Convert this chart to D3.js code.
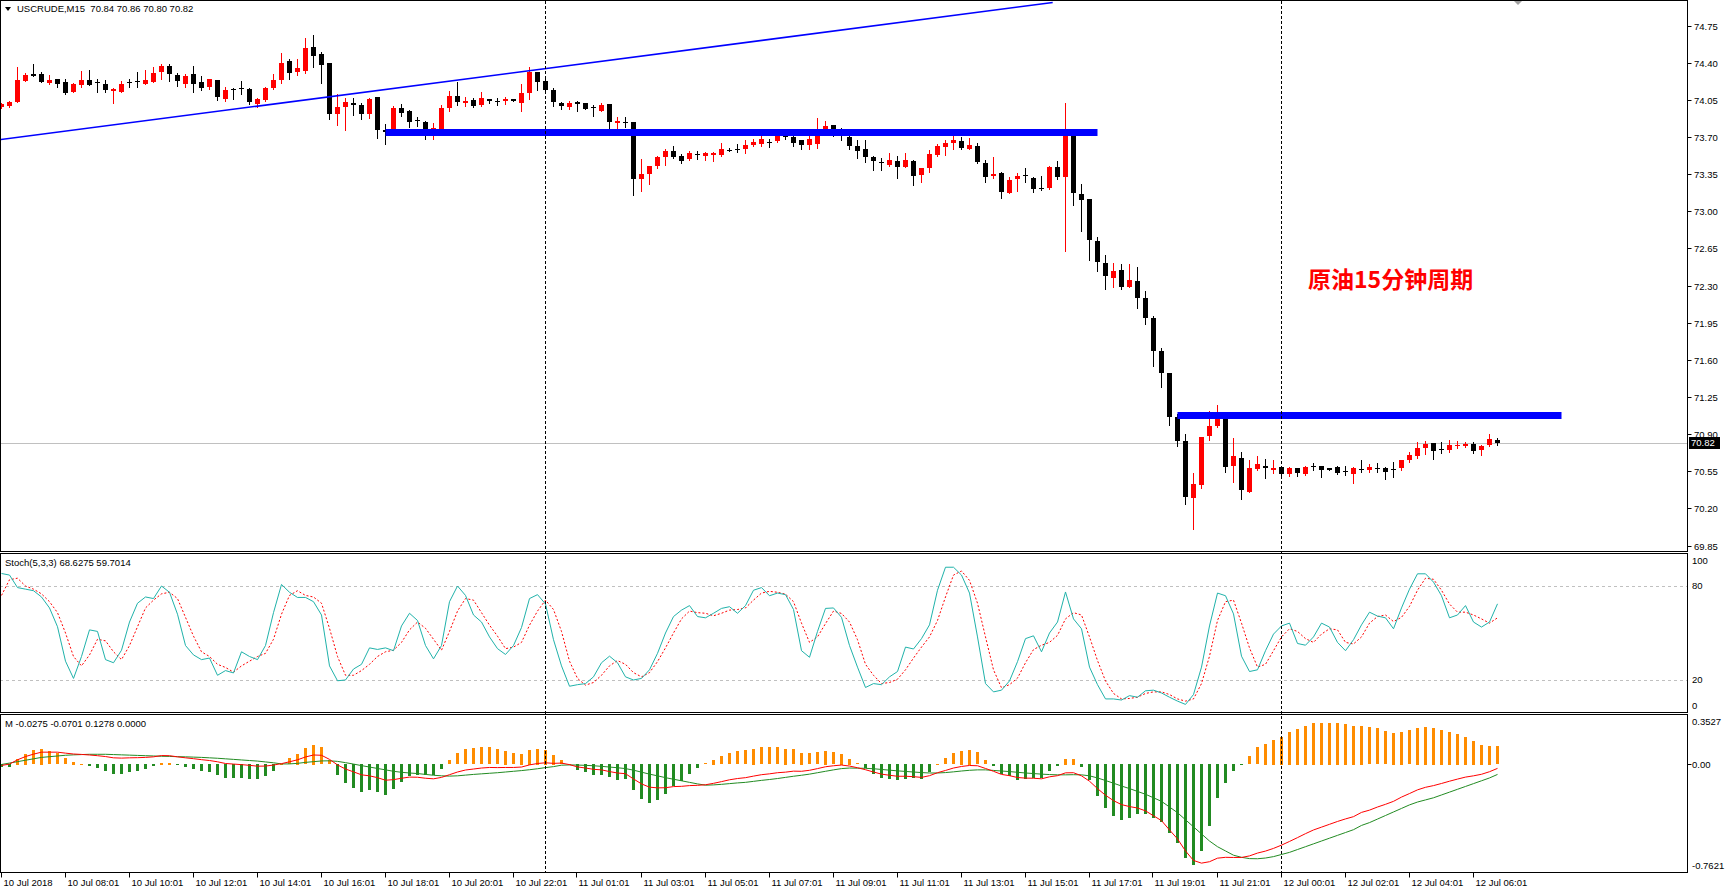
<!DOCTYPE html>
<html lang="zh">
<head>
<meta charset="UTF-8">
<title>USCRUDE,M15</title>
<style>
  html, body { margin: 0; padding: 0; background: #fff; }
  svg { display: block; }
  .lbl { font: 9.5px "Liberation Sans", Arial, sans-serif; fill: #000; }
  .note { font: bold 23px "Noto Sans CJK SC", sans-serif; fill: #ff0000; }
</style>
</head>
<body>
<svg id="chart" width="1725" height="892"></svg>
<script src="https://d3js.org/d3.v7.min.js"></script>
<script>
// --- data (bar index = position on the time axis) ---
const SYMBOL = "USCRUDE,M15";
const LAST_OHLC = ["70.84", "70.86", "70.80", "70.82"];
const NOTE = "原油15分钟周期";

// [open, high, low, close] per 15-minute bar
const CANDLES = [
  [73.98,74.02,73.97,74.01],[73.99,74.04,73.98,74.03],[74.03,74.36,74.03,74.24],[74.23,74.30,74.23,74.28],[74.29,74.39,74.27,74.27],
  [74.29,74.31,74.22,74.22],[74.21,74.28,74.20,74.24],[74.25,74.25,74.17,74.20],[74.22,74.25,74.10,74.11],[74.12,74.21,74.12,74.20],
  [74.19,74.32,74.17,74.24],[74.24,74.33,74.19,74.19],[74.214,74.25,74.12,74.208],[74.20,74.24,74.12,74.14],[74.136,74.157,74.02,74.148],
  [74.12,74.23,74.12,74.20],[74.22,74.245,74.17,74.215],[74.227,74.31,74.17,74.217],[74.20,74.33,74.20,74.24],[74.22,74.36,74.22,74.30],
  [74.31,74.39,74.25,74.37],[74.37,74.39,74.23,74.29],[74.28,74.30,74.18,74.23],[74.20,74.29,74.17,74.27],[74.29,74.37,74.12,74.20],
  [74.22,74.27,74.14,74.16],[74.17,74.25,74.15,74.25],[74.24,74.24,74.05,74.08],[74.06,74.17,74.04,74.14],[74.152,74.157,74.06,74.145],
  [74.16,74.23,74.10,74.148],[74.15,74.157,74.01,74.025],[74.01,74.07,73.98,74.06],[74.05,74.17,74.04,74.16],[74.16,74.29,74.15,74.24],
  [74.24,74.49,74.21,74.40],[74.42,74.43,74.25,74.30],[74.31,74.43,74.28,74.35],[74.32,74.635,74.305,74.54],[74.55,74.66,74.36,74.46],
  [74.48,74.50,74.21,74.38],[74.40,74.40,73.865,73.92],[73.92,74.10,73.81,73.98],[73.985,74.07,73.765,74.03],[74.016,74.07,73.906,74.004],
  [74.00,74.016,73.865,73.92],[73.92,74.07,73.878,74.06],[74.08,74.08,73.69,73.77],[73.77,73.82,73.63,73.75],[73.72,73.99,73.72,73.97],
  [73.97,74.01,73.895,73.93],[73.94,73.95,73.79,73.84],[73.86,73.885,73.80,73.855],[73.84,73.85,73.68,73.71],[73.71,73.83,73.68,73.78],
  [73.75,74.00,73.72,73.97],[73.97,74.13,73.94,74.09],[74.09,74.22,74.00,74.03],[74.02,74.08,73.99,74.04],[74.05,74.07,73.98,73.995],
  [74.00,74.12,73.99,74.07],[74.06,74.06,74.015,74.04],[74.04,74.07,74.00,74.039],[74.04,74.08,74.01,74.055],[74.06,74.06,74.035,74.035],
  [74.015,74.195,73.94,74.11],[74.11,74.36,74.06,74.31],[74.31,74.31,74.14,74.215],[74.23,74.25,74.13,74.14],[74.14,74.16,73.99,74.03],
  [74.02,74.03,73.96,73.99],[73.98,74.04,73.96,74.02],[74.03,74.035,73.94,74.01],[74.02,74.02,73.96,73.96],[73.98,74.00,73.895,73.97],
  [73.94,74.02,73.94,74.00],[74.01,74.01,73.78,73.84],[73.83,73.885,73.78,73.85],[73.84,73.885,73.79,73.835],[73.84,73.84,73.15,73.305],
  [73.30,73.49,73.19,73.35],[73.35,73.43,73.26,73.43],[73.43,73.52,73.41,73.51],[73.51,73.585,73.44,73.57],[73.57,73.615,73.50,73.51],
  [73.52,73.54,73.455,73.47],[73.49,73.57,73.48,73.55],[73.535,73.563,73.49,73.533],[73.52,73.56,73.48,73.55],[73.533,73.56,73.47,73.548],
  [73.53,73.64,73.52,73.59],[73.58,73.595,73.565,73.578],[73.59,73.636,73.56,73.585],[73.59,73.667,73.55,73.625],[73.625,73.677,73.615,73.655],
  [73.636,73.72,73.61,73.677],[73.653,73.677,73.605,73.65],[73.662,73.72,73.652,73.714],[73.71,73.765,73.677,73.703],[73.703,73.708,73.61,73.647],
  [73.667,73.667,73.59,73.62],[73.626,73.714,73.59,73.677],[73.636,73.88,73.595,73.776],[73.765,73.853,73.755,73.806],[73.81,73.81,73.71,73.755],
  [73.765,73.786,73.667,73.71],[73.70,73.72,73.585,73.615],[73.615,73.667,73.497,73.564],[73.59,73.667,73.46,73.512],[73.512,73.522,73.393,73.47],
  [73.462,73.497,73.393,73.46],[73.44,73.548,73.43,73.486],[73.47,73.52,73.316,73.42],[73.414,73.548,73.414,73.486],[73.47,73.486,73.25,73.33],
  [73.342,73.404,73.274,73.404],[73.409,73.574,73.367,73.543],[73.528,73.636,73.522,73.615],[73.605,73.667,73.528,73.646],[73.646,73.714,73.585,73.667],
  [73.657,73.703,73.585,73.595],[73.585,73.688,73.585,73.626],[73.615,73.646,73.45,73.46],[73.455,73.481,73.274,73.326],[73.331,73.507,73.316,73.347],
  [73.362,73.373,73.12,73.18],[73.171,73.32,73.171,73.29],[73.305,73.362,73.19,73.336],[73.342,73.409,73.274,73.331],[73.31,73.32,73.18,73.212],
  [73.223,73.336,73.202,73.218],[73.218,73.43,73.207,73.419],[73.42,73.47,73.30,73.326],[73.321,74.024,72.623,73.714],[73.714,73.755,73.057,73.171],
  [73.16,73.254,72.814,73.109],[73.119,73.119,72.54,72.726],[72.721,72.757,72.437,72.52],[72.509,72.592,72.271,72.385],[72.375,72.514,72.282,72.437],
  [72.447,72.499,72.271,72.287],[72.287,72.504,72.287,72.349],[72.344,72.478,72.09,72.178],[72.178,72.245,71.94,71.997],[71.997,72.008,71.537,71.682],
  [71.682,71.713,71.346,71.48],[71.48,71.48,70.99,71.062],[71.062,71.093,70.787,70.839],[70.839,70.901,70.245,70.307],[70.296,70.535,70.007,70.431],
  [70.421,70.875,70.395,70.875],[70.886,71.118,70.844,70.978],[70.974,71.175,70.963,71.067],[71.046,71.046,70.545,70.586],[70.601,70.86,70.446,70.694],
  [70.679,70.731,70.291,70.369],[70.358,70.653,70.358,70.576],[70.571,70.69,70.566,70.617],[70.596,70.669,70.483,70.576],[70.56,70.653,70.535,70.576],
  [70.586,70.602,70.514,70.524],[70.524,70.586,70.504,70.576],[70.576,70.576,70.504,70.535],[70.524,70.596,70.514,70.586],[70.602,70.627,70.566,70.586],
  [70.596,70.602,70.493,70.56],[70.576,70.58,70.56,70.566],[70.586,70.602,70.524,70.535],[70.555,70.602,70.514,70.545],[70.524,70.586,70.44,70.576],
  [70.567,70.653,70.545,70.565],[70.565,70.617,70.545,70.586],[70.577,70.627,70.545,70.574],[70.576,70.586,70.473,70.545],[70.567,70.637,70.493,70.565],
  [70.576,70.658,70.566,70.658],[70.658,70.731,70.638,70.705],[70.694,70.829,70.679,70.772],[70.772,70.834,70.71,70.808],[70.819,70.819,70.664,70.736],
  [70.757,70.824,70.72,70.756],[70.751,70.845,70.731,70.793],[70.79,70.834,70.767,70.80],[70.79,70.824,70.777,70.803],[70.808,70.829,70.725,70.741],
  [70.746,70.798,70.705,70.788],[70.793,70.896,70.783,70.855],[70.84,70.86,70.80,70.82]
];

// Stochastic(5,3,3): main (%K) and signal (%D)
const STOCH_K = [88,87,79,78,77,73,66,54,32,21,
  35,52,51,33,31,39,57,69,73,72, 80,76,62,42,36,33,34,23,26,24.5,
  38,35,33,42,63,81,76,72.7,72.7,70, 61.5,29,19.5,20,27,30,40.5,39.5,40.5,38.7,
  54.5,62.6,58,42,33.5,42,70,80,74,61.5, 57,47.5,40,36.3,42,53.5,72,74.5,68.5,45.7,
  29,16,17,17.7,22,31,35.2,31,22,20, 21,26.5,37,50,60.5,64.6,67.5,60.5,59.7,62.6,
  65.7,66.8,62.6,67.5,77.3,79,73.8,75.5,74.5,65, 38.7,34.5,51,65.7,66,60,42,28.2,15.2,17.7,
  17,22,25.4,41,39.8,46.4,55.2,77.3,92,92, 87,75.5,47.5,17.7,12.4,13.5,19.4,31.7,46.4,48.2,
  38,50,57,76.2,59,52.7,28.2,17,7.9,7.9, 7.2,10,9,13.1,13.5,11.7,9,6.5,4.4,10.7,
  28.2,54.5,75.5,73.8,62.2,35.2,25.4,26.5,38.7,49.3, 54.5,56.3,43.3,42.2,47.5,56.3,53.8,44,38.7,45.7,
  55.2,63.3,60.8,59.7,52.7,66,78,87.8,87.8,82.5, 73.8,59.7,61.5,67.5,57,53.8,57,68.6275];
const STOCH_D = [74,84,85,80,78,75,70,63,50,35,
  29,36,46,45,38,33,42,54,66,71, 75,76,72,60,48,38,35,30,28,25,
  29,32,35,37,46,62,74,77,74,73, 69,53,35,23,23,26,30,35,38,39,
  44,52,57,53,46,39,51,64,72,71, 63,55,48,40,41,44,55,64,71,65,
  51,32,21,16.7,18.4,23,29,32.4,30,24.7, 22,24.7,31.7,40.5,50,59,64,63,62.6,61,
  62.6,64.6,65,66,71,75.5,76.6,76,74.8,70, 56.3,44,47.5,56,64,62.5,57,45.7,30,23,
  17.7,18.4,20.5,26.5,34,41,47.5,58,73,87, 89.6,83.6,69,47.5,26.5,15,17,21.2,31,39.4,
  42.2,44,48.5,59,63,61.5,47.5,32.4,19.4,11.4, 7.9,8.2,9,11.4,12.4,12.4,10.7,7.9,6.5,7.9,
  17.7,35.2,58,70,71,56.3,40.5,28.2,30,38.7, 47.5,52.7,51,46.4,44,49.3,52.7,52,44,43,
  47.5,56.3,60.5,61.5,57.3,60,67,77.3,85,84.3, 77.3,68.5,63.3,63.3,61.5,59,56.3,59.7014];
const STOCH_LEVELS = [20, 80];
const STOCH_TICKS = ["100", "80", "20", "0"];

// MACD-style oscillator: histogram, main line (red), signal line (green)
const HIST = [-0.02,-0.02,0.04,0.077,0.10,0.11,0.095,0.08,0.045,0.018,
  0.003,-0.016,-0.03,-0.048,-0.07,-0.07,-0.056,-0.048,-0.037,-0.017, 0.014,0.014,-0.004,-0.021,-0.033,-0.048,-0.056,-0.076,-0.099,-0.099,
  -0.099,-0.103,-0.107,-0.087,-0.048,0.005,0.045,0.076,0.115,0.14, 0.12,0.03,-0.076,-0.134,-0.166,-0.196,-0.185,-0.196,-0.22,-0.177,
  -0.126,-0.087,-0.08,-0.08,-0.076,-0.033,0.03,0.08,0.107,0.115, 0.123,0.123,0.107,0.096,0.08,0.076,0.103,0.111,0.103,0.069,
  0.03,0.004,-0.04,-0.056,-0.076,-0.076,-0.095,-0.11,-0.107,-0.185, -0.25,-0.275,-0.255,-0.212,-0.157,-0.118,-0.068,-0.029,0.01,0.034,
  0.057,0.08,0.092,0.10,0.111,0.12,0.12,0.123,0.111,0.107, 0.084,0.08,0.088,0.096,0.088,0.076,0.041,0.01,-0.029,-0.068,
  -0.099,-0.107,-0.115,-0.103,-0.099,-0.103,-0.056,0.006,0.045,0.08, 0.096,0.103,0.088,0.03,-0.017,-0.072,-0.087,-0.11,-0.107,-0.099,
  -0.099,-0.048,-0.017,0.041,0.041,-0.021,-0.115,-0.224,-0.313,-0.368, -0.392,-0.38,-0.352,-0.352,-0.38,-0.407,-0.485,-0.555,-0.66,-0.71,
  -0.617,-0.438,-0.243,-0.134,-0.048,-0.004,0.057,0.12,0.147,0.174, 0.197,0.232,0.252,0.275,0.295,0.295,0.295,0.295,0.287,0.275,
  0.275,0.263,0.256,0.236,0.224,0.232,0.24,0.259,0.267,0.259, 0.244,0.232,0.217,0.197,0.166,0.139,0.131,0.1278];
const MACD_MAIN = [-0.007,0.003,0.033,0.056,0.073,0.087,0.087,0.087,0.08,0.074,
  0.071,0.067,0.062,0.056,0.047,0.045,0.047,0.048,0.05,0.054, 0.063,0.062,0.054,0.047,0.041,0.034,0.028,0.019,0.007,0.003,
  -0.001,-0.006,-0.012,-0.011,-0.004,0.006,0.019,0.033,0.053,0.067, 0.065,0.036,-0.003,-0.032,-0.052,-0.073,-0.08,-0.093,-0.111,-0.107,
  -0.097,-0.089,-0.09,-0.097,-0.101,-0.091,-0.072,-0.053,-0.039,-0.032, -0.025,-0.021,-0.022,-0.021,-0.021,-0.018,-0.003,0.007,0.012,0.008,
  0.01,-0.001,-0.017,-0.025,-0.034,-0.038,-0.05,-0.06,-0.065,-0.102, -0.137,-0.16,-0.165,-0.164,-0.156,-0.154,-0.149,-0.147,-0.143,-0.133,
  -0.121,-0.108,-0.099,-0.093,-0.082,-0.072,-0.066,-0.058,-0.054,-0.047, -0.048,-0.041,-0.029,-0.016,-0.009,-0.004,-0.011,-0.023,-0.037,-0.053,
  -0.068,-0.076,-0.083,-0.083,-0.086,-0.091,-0.079,-0.058,-0.042,-0.025, -0.014,-0.007,-0.009,-0.028,-0.048,-0.07,-0.079,-0.092,-0.096,-0.097,
  -0.101,-0.087,-0.079,-0.059,-0.058,-0.08,-0.118,-0.17,-0.217,-0.255, -0.283,-0.297,-0.307,-0.327,-0.362,-0.396,-0.462,-0.525,-0.61,-0.677,
  -0.696,-0.686,-0.661,-0.655,-0.656,-0.656,-0.645,-0.625,-0.611,-0.592, -0.569,-0.543,-0.516,-0.488,-0.462,-0.442,-0.422,-0.402,-0.384,-0.368,
  -0.338,-0.322,-0.30,-0.281,-0.26,-0.23,-0.205,-0.179,-0.161,-0.149, -0.134,-0.118,-0.103,-0.089,-0.08,-0.069,-0.051,-0.0275];
const MACD_SIGNAL = [0,0.01,0.02,0.03,0.04,0.05,0.055,0.06,0.065,0.068,
  0.07,0.072,0.072,0.072,0.07,0.068,0.066,0.064,0.062,0.06, 0.058,0.057,0.055,0.054,0.052,0.05,0.047,0.044,0.04,0.036,
  0.032,0.028,0.024,0.018,0.012,0.004,0.004,0.008,0.015,0.02, 0.025,0.026,0.022,0.013,0.003,-0.008,-0.018,-0.028,-0.038,-0.048,
  -0.055,-0.06,-0.064,-0.07,-0.076,-0.08,-0.082,-0.08,-0.075,-0.07, -0.066,-0.062,-0.058,-0.053,-0.048,-0.043,-0.037,-0.03,-0.022,-0.015,
  -0.005,-0.003,-0.004,-0.006,-0.009,-0.013,-0.018,-0.023,-0.029,-0.04, -0.054,-0.068,-0.08,-0.093,-0.104,-0.115,-0.126,-0.137,-0.146,-0.144,
  -0.14,-0.135,-0.13,-0.126,-0.119,-0.112,-0.106,-0.099,-0.091,-0.083, -0.076,-0.068,-0.058,-0.048,-0.038,-0.029,-0.025,-0.026,-0.027,-0.03,
  -0.035,-0.04,-0.045,-0.049,-0.053,-0.057,-0.06,-0.06,-0.057,-0.052, -0.046,-0.041,-0.038,-0.038,-0.042,-0.046,-0.05,-0.055,-0.06,-0.064,
  -0.068,-0.071,-0.073,-0.073,-0.072,-0.073,-0.08,-0.095,-0.113,-0.132, -0.152,-0.17,-0.19,-0.21,-0.235,-0.26,-0.3,-0.34,-0.39,-0.44,
  -0.49,-0.54,-0.58,-0.61,-0.64,-0.655,-0.664,-0.665,-0.66,-0.65, -0.635,-0.62,-0.6,-0.58,-0.56,-0.54,-0.52,-0.5,-0.48,-0.46,
  -0.43,-0.41,-0.385,-0.36,-0.335,-0.31,-0.285,-0.265,-0.25,-0.235, -0.215,-0.195,-0.175,-0.155,-0.135,-0.115,-0.095,-0.0701];
const MACD_TITLE = "M -0.0275 -0.0701 0.1278 0.0000";
const MACD_MAX = 0.3527, MACD_MIN = -0.7621;

// price axis labels
const PRICE_TICKS = ["74.75","74.40","74.05","73.70","73.35","73.00","72.65","72.30","71.95","71.60","71.25","70.90","70.55","70.20","69.85"];
const PRICE_LAST = 70.82;

// time axis labels: [bar index, text]
const TIME_LABELS = [[0,"10 Jul 2018"],[8,"10 Jul 08:01"],[16,"10 Jul 10:01"],[24,"10 Jul 12:01"],[32,"10 Jul 14:01"],
  [40,"10 Jul 16:01"],[48,"10 Jul 18:01"],[56,"10 Jul 20:01"],[64,"10 Jul 22:01"],[72,"11 Jul 01:01"],[80,"11 Jul 03:01"],
  [88,"11 Jul 05:01"],[96,"11 Jul 07:01"],[104,"11 Jul 09:01"],[112,"11 Jul 11:01"],[120,"11 Jul 13:01"],[128,"11 Jul 15:01"],
  [136,"11 Jul 17:01"],[144,"11 Jul 19:01"],[152,"11 Jul 21:01"],[160,"12 Jul 00:01"],[168,"12 Jul 02:01"],[176,"12 Jul 04:01"],
  [184,"12 Jul 06:01"]];
// day separators (bar index)
const DAY_SEPS = [68, 160];

// drawn objects: trend line [[bar, price],[bar, price]], thick horizontal levels
const TREND = [[-0.2, 73.674], [131.4, 74.967]];
const LEVELS = [{from: 48, to: 137, price: 73.742}, {from: 147, to: 195, price: 71.075}];

// --- layout ---
const R = 1687;                         // right edge of plot area
const PANEL = {
  main:  {top: 0.5,   bottom: 551.5},
  stoch: {top: 553.5, bottom: 712.5},
  macd:  {top: 714.5, bottom: 872.5}
};

const svg = d3.select("#chart");
svg.append("rect").attr("width", 1725).attr("height", 892).attr("fill", "#fff");

const x = d3.scaleLinear().domain([0, 187]).range([1.5, 1497.5]);
const yP = d3.scaleLinear().domain([69.85, 74.75]).range([545.5, 25.5]);
const yS = d3.scaleLinear().domain([0, 100]).range([711.3, 554.7]);
const yM = d3.scaleLinear().domain([MACD_MIN, MACD_MAX]).range([872.5, 714.5]);

const defs = svg.append("defs");
Object.entries(PANEL).forEach(([k, p]) => {
  defs.append("clipPath").attr("id", "clip-" + k)
    .append("rect").attr("x", 1).attr("y", p.top + 0.5)
    .attr("width", R - 1).attr("height", p.bottom - p.top - 1);
});

// ---------- main panel ----------
const gm = svg.append("g").attr("clip-path", "url(#clip-main)");

// current price line
gm.append("line").attr("x1", 0).attr("x2", R)
  .attr("y1", Math.round(yP(PRICE_LAST)) + 0.5).attr("y2", Math.round(yP(PRICE_LAST)) + 0.5)
  .attr("stroke", "#c0c0c0").attr("stroke-width", 1);

// candles
const cg = gm.append("g").attr("shape-rendering", "crispEdges");
CANDLES.forEach((d, i) => {
  const [o, h, l, c] = d;
  const col = c >= o ? "#ff0000" : "#000000";
  cg.append("line").attr("x1", x(i)).attr("x2", x(i))
    .attr("y1", Math.round(yP(h))).attr("y2", Math.round(yP(l)) + 1)
    .attr("stroke", col).attr("stroke-width", 1);
  const yt = Math.round(yP(Math.max(o, c))), yb = Math.round(yP(Math.min(o, c)));
  cg.append("rect").attr("x", x(i) - 2.5).attr("y", yt)
    .attr("width", 5).attr("height", Math.max(1, yb - yt))
    .attr("fill", col);
});

// trend line
gm.append("line")
  .attr("x1", x(TREND[0][0])).attr("y1", yP(TREND[0][1]))
  .attr("x2", x(TREND[1][0])).attr("y2", yP(TREND[1][1]))
  .attr("stroke", "#0000ff").attr("stroke-width", 1.6);

// thick horizontal levels
LEVELS.forEach(l => {
  gm.append("line").attr("x1", x(l.from)).attr("x2", x(l.to))
    .attr("y1", yP(l.price)).attr("y2", yP(l.price))
    .attr("stroke", "#0000ff").attr("stroke-width", 7);
});

// note text
svg.append("text").attr("class", "note").attr("x", 1308).attr("y", 288).text(NOTE);

// title
svg.append("path").attr("d", "M5,7 L11,7 L8,11 Z").attr("fill", "#000");
svg.append("text").attr("class", "lbl").attr("x", 17).attr("y", 12)
  .attr("xml:space", "preserve")
  .text(SYMBOL + "  " + LAST_OHLC.join(" "));

// chart-shift marker
svg.append("path").attr("d", "M1513,0 L1523,0 L1518,5 Z").attr("fill", "#a0a0a0");

// ---------- stochastic panel ----------
const gs = svg.append("g").attr("clip-path", "url(#clip-stoch)");
STOCH_LEVELS.forEach(v => {
  gs.append("line").attr("x1", 0).attr("x2", R)
    .attr("y1", Math.round(yS(v)) + 0.5).attr("y2", Math.round(yS(v)) + 0.5)
    .attr("stroke", "#c0c0c0").attr("stroke-dasharray", "3,3");
});
gs.append("path").datum(STOCH_D)
  .attr("d", d3.line().x((d, i) => x(i)).y(d => yS(d)))
  .attr("fill", "none").attr("stroke", "#ff0000").attr("stroke-width", 1)
  .attr("stroke-dasharray", "2,2");
gs.append("path").datum(STOCH_K)
  .attr("d", d3.line().x((d, i) => x(i)).y(d => yS(d)))
  .attr("fill", "none").attr("stroke", "#20b2aa").attr("stroke-width", 1);
svg.append("text").attr("class", "lbl").attr("x", 5).attr("y", 566)
  .text("Stoch(5,3,3) " + STOCH_K[STOCH_K.length - 1].toFixed(4) + " " + STOCH_D[STOCH_D.length - 1].toFixed(4));

// ---------- MACD panel ----------
const gc = svg.append("g").attr("clip-path", "url(#clip-macd)");
gc.append("g").attr("shape-rendering", "crispEdges")
  .selectAll("rect").data(HIST).join("rect")
  .attr("x", (d, i) => x(i) - 1.5).attr("width", 3)
  .attr("y", d => Math.round(Math.min(yM(d), yM(0))))
  .attr("height", d => Math.max(1, Math.round(Math.abs(yM(d) - yM(0)))))
  .attr("fill", d => d >= 0 ? "#ff8c00" : "#228b22");
gc.append("path").datum(MACD_SIGNAL)
  .attr("d", d3.line().x((d, i) => x(i)).y(d => yM(d)))
  .attr("fill", "none").attr("stroke", "#228b22").attr("stroke-width", 1);
gc.append("path").datum(MACD_MAIN)
  .attr("d", d3.line().x((d, i) => x(i)).y(d => yM(d)))
  .attr("fill", "none").attr("stroke", "#ff0000").attr("stroke-width", 1);
svg.append("text").attr("class", "lbl").attr("x", 5).attr("y", 727).text(MACD_TITLE);

// ---------- day separators ----------
DAY_SEPS.forEach(b => {
  svg.append("line").attr("x1", x(b)).attr("x2", x(b)).attr("y1", 1).attr("y2", PANEL.macd.bottom)
    .attr("stroke", "#000").attr("stroke-width", 1).attr("stroke-dasharray", "3,2");
});

// ---------- frames ----------
Object.values(PANEL).forEach(p => {
  svg.append("rect").attr("x", 0.5).attr("y", p.top).attr("width", R).attr("height", p.bottom - p.top)
    .attr("fill", "none").attr("stroke", "#000").attr("stroke-width", 1)
    .attr("shape-rendering", "crispEdges");
});

// ---------- right axes ----------
const ax = svg.append("g");
PRICE_TICKS.forEach(t => {
  const yy = Math.round(yP(+t)) + 0.5;
  ax.append("line").attr("x1", R + 0.5).attr("x2", R + 4.5).attr("y1", yy).attr("y2", yy).attr("stroke", "#000");
  ax.append("text").attr("class", "lbl").attr("x", R + 7).attr("y", yy).attr("dy", "0.35em").text(t);
});
// last price box
const yl = Math.round(yP(PRICE_LAST));
ax.append("rect").attr("x", R + 2).attr("y", yl - 6).attr("width", 31).attr("height", 12).attr("fill", "#000");
ax.append("text").attr("class", "lbl").attr("x", R + 4).attr("y", yl).attr("dy", "0.35em")
  .style("fill", "#fff").text(PRICE_LAST.toFixed(2));

const clampY = (y, p) => Math.max(p.top + 7.5, Math.min(p.bottom - 7, y));
STOCH_TICKS.forEach(t => {
  const yy = yS(+t);
  ax.append("text").attr("class", "lbl").attr("x", R + 5).attr("y", clampY(yy, PANEL.stoch)).attr("dy", "0.35em").text(t);
});
[[MACD_MAX, MACD_MAX.toFixed(4)], [0, "0.00"], [MACD_MIN, MACD_MIN.toFixed(4)]].forEach(([v, t]) => {
  const yy = yM(v);
  if (v === 0) ax.append("line").attr("x1", R + 0.5).attr("x2", R + 4.5)
    .attr("y1", Math.round(yy) + 0.5).attr("y2", Math.round(yy) + 0.5).attr("stroke", "#000");
  ax.append("text").attr("class", "lbl").attr("x", R + 5).attr("y", clampY(yy, PANEL.macd)).attr("dy", "0.35em").text(t);
});

// ---------- time axis ----------
TIME_LABELS.forEach(([b, t]) => {
  const xx = Math.round(x(b)) - 0.5;
  ax.append("line").attr("x1", xx).attr("x2", xx).attr("y1", PANEL.macd.bottom).attr("y2", PANEL.macd.bottom + 5)
    .attr("stroke", "#000");
  ax.append("text").attr("class", "lbl").attr("x", xx + 2).attr("y", 886).text(t);
});
</script>
</body>
</html>
